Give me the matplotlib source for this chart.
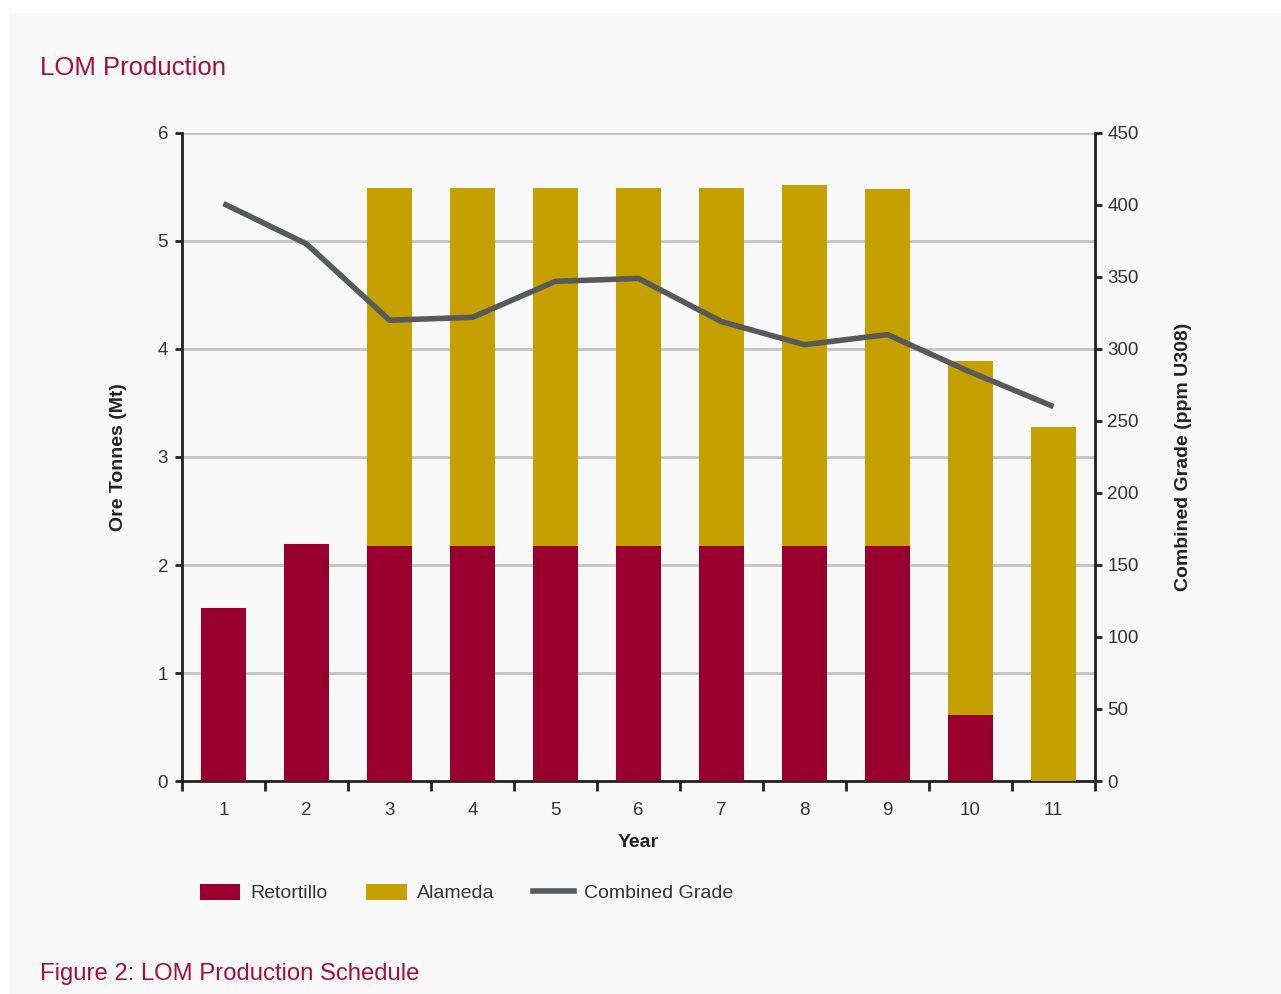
import matplotlib
matplotlib.use("Agg")
import matplotlib.pyplot as plt
from matplotlib.patches import Rectangle, Patch
from matplotlib.lines import Line2D
import numpy as np

plt.rcParams['font.family'] = ['Liberation Sans', 'DejaVu Sans']

years = [1, 2, 3, 4, 5, 6, 7, 8, 9, 10, 11]
retortillo = [1.60, 2.19, 2.18, 2.18, 2.18, 2.18, 2.18, 2.18, 2.18, 0.61, 0.0]
alameda = [0.0, 0.0, 3.31, 3.31, 3.31, 3.31, 3.31, 3.34, 3.30, 3.28, 3.28]
grade = [401, 373, 320, 322, 347, 349, 319, 303, 310, 284, 260]

RED = '#990030'
GOLD = '#c4a000'
GREY_LINE = '#58595b'
TITLE_COL = '#a3103c'
BG = '#f8f8f8'

W, H = 1281, 994
fig = plt.figure(figsize=(W / 100, H / 100), dpi=100)
fig.patch.set_facecolor('white')
# light grey panel, white strip at top and left
fig.patches.append(Rectangle((9 / W, 0), 1, 1 - 13 / H, transform=fig.transFigure,
                             facecolor=BG, edgecolor='none', zorder=-10))

ax = fig.add_axes([182 / W, 1 - 781 / H, (1095 - 182) / W, (781 - 133) / H])
ax.patch.set_alpha(0)

x = np.array(years)
ax.bar(x, retortillo, width=0.55, color=RED, zorder=3)
ax.bar(x, alameda, width=0.55, bottom=retortillo, color=GOLD, zorder=3)

ax.set_xlim(0.5, 11.5)
ax.set_ylim(0, 6)
ax.set_yticks(range(0, 7))
ax.set_xticks(x)
ax.set_xticklabels([str(y) for y in years])
# tick marks sit between the categories
ax.set_xticks(np.arange(0.5, 12, 1), minor=True)
ax.tick_params(axis='x', which='major', length=0, pad=15, labelsize=13.5, colors='#333333')
ax.tick_params(axis='x', which='minor', length=7, width=2, color='#222222', direction='out')
ax.tick_params(axis='y', length=5, width=2, color='#222222', labelsize=13.5,
               labelcolor='#333333', pad=5)
ax.yaxis.grid(True, color='#c4c4c4', linewidth=2, zorder=0)
ax.set_axisbelow(True)
for s in ['top', 'right']:
    ax.spines[s].set_visible(False)
for s in ['left', 'bottom']:
    ax.spines[s].set_linewidth(2)
    ax.spines[s].set_color('#222222')

ax.set_xlabel('Year', fontsize=14, fontweight='bold', labelpad=11, color='#222222')
ax.set_ylabel('Ore Tonnes (Mt)', fontsize=14, fontweight='bold', labelpad=22, color='#222222')

ax2 = ax.twinx()
ax2.plot(x, grade, color=GREY_LINE, linewidth=4, zorder=5, solid_capstyle='butt')
ax2.set_ylim(0, 450)
ax2.set_yticks(range(0, 451, 50))
ax2.tick_params(axis='y', length=5, width=2, color='#222222', labelsize=13.5,
                labelcolor='#333333', pad=4)
for s in ['top', 'left', 'bottom']:
    ax2.spines[s].set_visible(False)
ax2.spines['right'].set_linewidth(2)
ax2.spines['right'].set_color('#222222')
ax2.set_ylabel('Combined Grade (ppm U308)', fontsize=14, fontweight='bold',
               labelpad=26, color='#222222')

handles = [Patch(facecolor=RED, edgecolor='none'),
           Patch(facecolor=GOLD, edgecolor='none'),
           Line2D([0], [0], color=GREY_LINE, linewidth=4)]
fig.legend(handles, ['Retortillo', 'Alameda', 'Combined Grade'],
           loc='center left', bbox_to_anchor=(182 / W, 1 - 893 / H), ncol=3,
           frameon=False, fontsize=14, handlelength=2.1, handleheight=0.9,
           columnspacing=2.0, handletextpad=0.5, labelcolor='#333333')

fig.text(40 / W, 1 - 68 / H, 'LOM Production', fontsize=18.5, color=TITLE_COL,
         va='center', ha='left')
fig.text(40 / W, 1 - 974 / H, 'Figure 2: LOM Production Schedule', fontsize=17.2,
         color=TITLE_COL, va='center', ha='left')

fig.savefig('out.png', dpi=100, facecolor=fig.get_facecolor())
